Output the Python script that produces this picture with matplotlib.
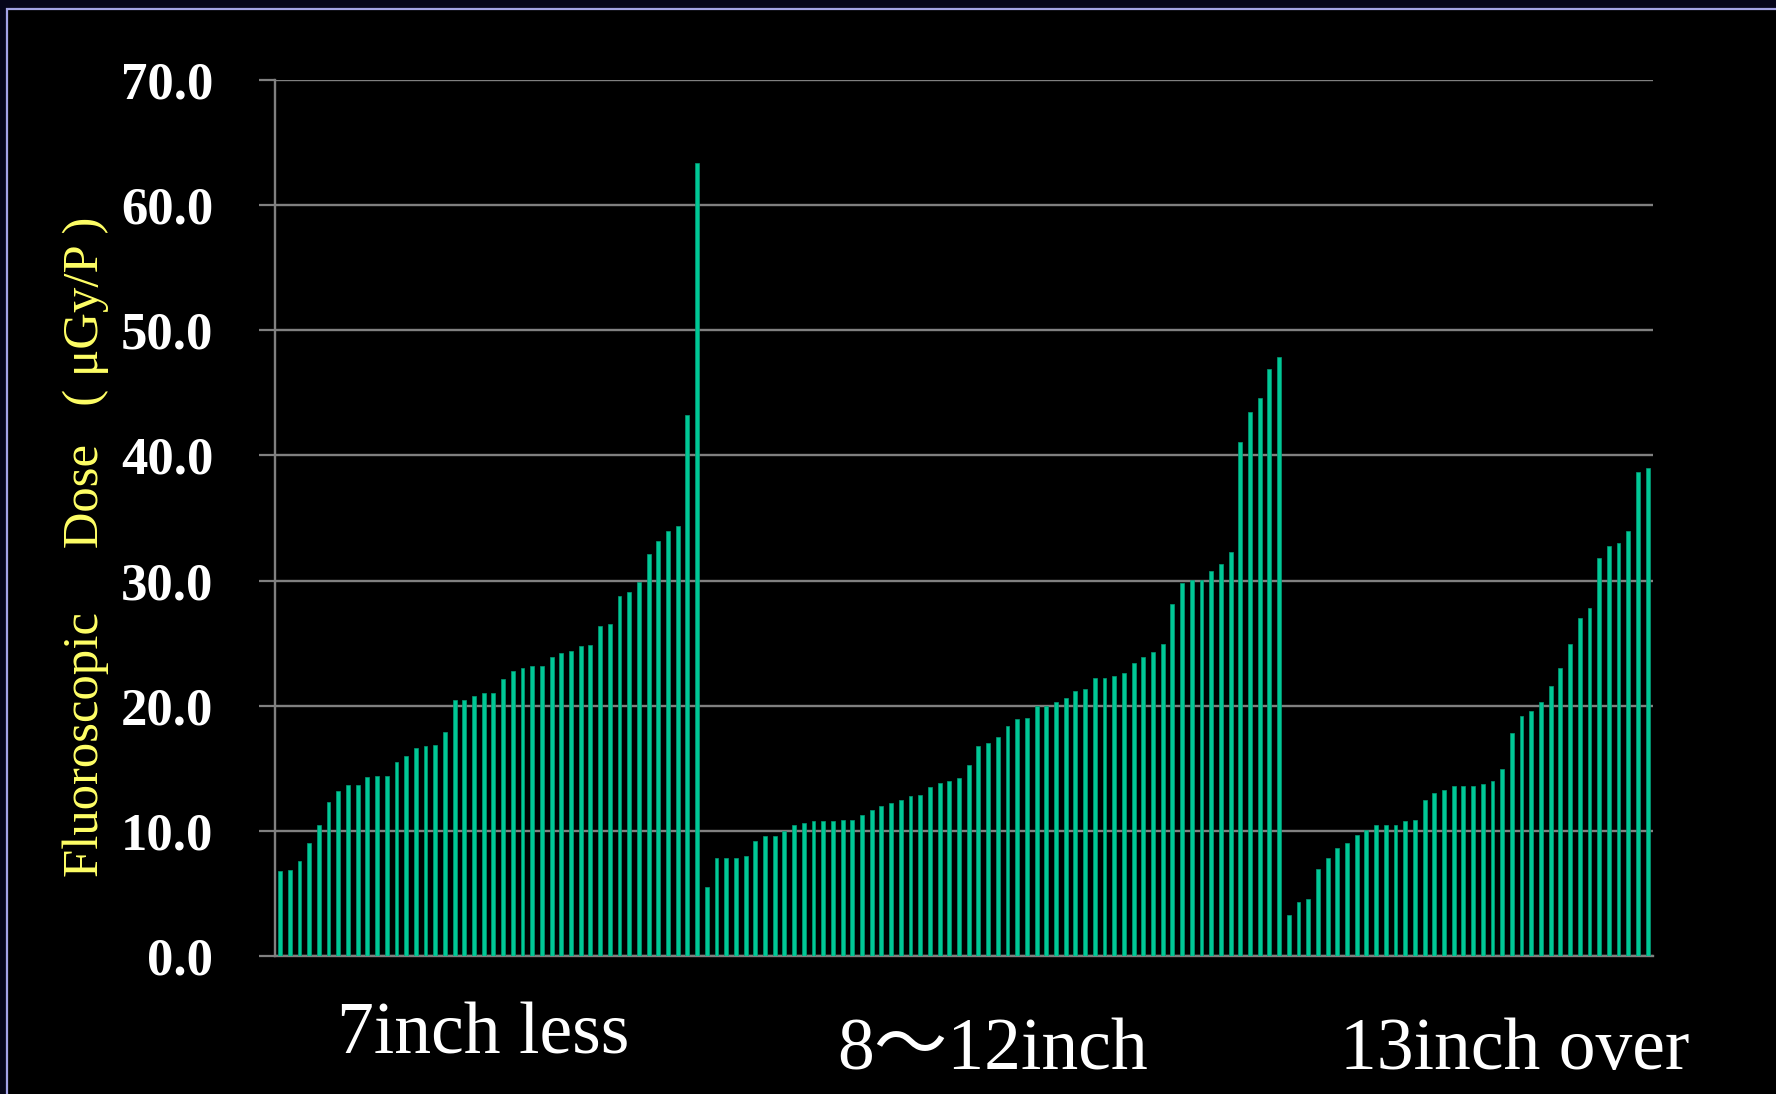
import numpy as np
import matplotlib
matplotlib.use("Agg")
import matplotlib.pyplot as plt
from matplotlib.patches import Rectangle

# ---- data ----
group_labels = ["7inch less", "8～12inch", "13inch over"]
dose_7inch_less = [6.8, 6.9, 7.6, 9.0, 10.45, 12.3, 13.2, 13.7, 13.7, 14.3,
                   14.35, 14.35, 15.5, 16.0, 16.6, 16.8, 16.9, 17.9, 20.45, 20.45,
                   20.8, 21.0, 21.0, 22.1, 22.8, 23.0, 23.2, 23.2, 23.9, 24.2,
                   24.35, 24.8, 24.85, 26.35, 26.55, 28.8, 29.1, 29.9, 32.1, 33.2,
                   34.0, 34.35, 43.25, 63.4]
dose_8_12inch = [5.5, 7.8, 7.8, 7.8, 8.0, 9.2, 9.6, 9.6, 10.0, 10.5,
                 10.6, 10.75, 10.75, 10.8, 10.9, 10.9, 11.3, 11.7, 12.0, 12.2,
                 12.45, 12.8, 12.9, 13.5, 13.8, 14.0, 14.2, 15.3, 16.8, 17.0,
                 17.5, 18.4, 18.9, 19.0, 20.0, 20.0, 20.3, 20.6, 21.2, 21.3,
                 22.2, 22.2, 22.4, 22.6, 23.4, 23.9, 24.3, 24.95, 28.1, 29.8,
                 30.07, 30.07, 30.75, 31.3, 32.3, 41.05, 43.5, 44.6, 46.9, 47.9]
dose_13inch_over = [3.3, 4.3, 4.55, 6.95, 7.87, 8.6, 9.05, 9.7, 10.1, 10.45,
                    10.45, 10.5, 10.8, 10.9, 12.5, 13.0, 13.3, 13.6, 13.6, 13.6,
                    13.77, 14.0, 14.95, 17.8, 19.15, 19.6, 20.26, 21.57, 23.0, 24.95,
                    27.0, 27.8, 31.8, 32.75, 33.0, 34.0, 38.7, 39.0]
y_ticks = [0, 10, 20, 30, 40, 50, 60, 70]
y_label = "Fluoroscopic     Dose   ( μGy/P )"

values = np.array(dose_7inch_less + dose_8_12inch + dose_13inch_over)
x = np.arange(len(values))

W, H = 1776, 1094
fig = plt.figure(figsize=(W / 100, H / 100), dpi=100)
fig.patch.set_facecolor("#05051a")

# slide frame (drawn behind everything)
frame = Rectangle((7 / W, -0.05), 1.2, 1 - 9 / H + 0.05, transform=fig.transFigure,
                  facecolor="black", edgecolor="#a3a3e6", linewidth=1.6, zorder=-10)
fig.patches.append(frame)

left, right, top, bottom = 275.2, 1652.5, 80, 956
ax = fig.add_axes([left / W, 1 - bottom / H, (right - left) / W, (bottom - top) / H])
ax.set_facecolor("black")

ax.bar(x, values, width=0.40, color="#00c896", edgecolor="#009c75", linewidth=0.5, zorder=3)

ax.set_xlim(-0.5, len(values) - 0.5)
ax.set_ylim(0, 70)
ax.set_yticks(y_ticks)
ax.set_yticklabels([f"{v:.1f}" for v in y_ticks],
                   fontfamily="Liberation Serif", fontweight="bold", fontsize=38, color="white")
ax.set_xticks([])
ax.tick_params(axis="y", direction="out", length=11.5, width=1.6, color="#808080", pad=33)
ax.yaxis.grid(True, color="#808080", linewidth=1.7, zorder=1)
ax.set_axisbelow(True)
for s in ["top", "right"]:
    ax.spines[s].set_visible(False)
for s in ["left", "bottom"]:
    ax.spines[s].set_color("#808080")
    ax.spines[s].set_linewidth(1.7)

# y label
fig.text(98 / W, 1 - 547 / H, y_label, rotation=90, rotation_mode="anchor",
         ha="center", va="baseline", fontsize=36.5, color="#ffff66",
         fontfamily="Liberation Serif")

# group labels below the axis
label_pos = [(483, 1054), (993, 1070), (1515, 1069)]
for lab, (px, py) in zip(group_labels, label_pos):
    fig.text(px / W, 1 - py / H, lab, ha="center", va="baseline", fontsize=53,
             color="white", fontfamily=["Liberation Serif", "Noto Sans CJK JP"])

fig.savefig("out.png", dpi=100, facecolor=fig.get_facecolor())
